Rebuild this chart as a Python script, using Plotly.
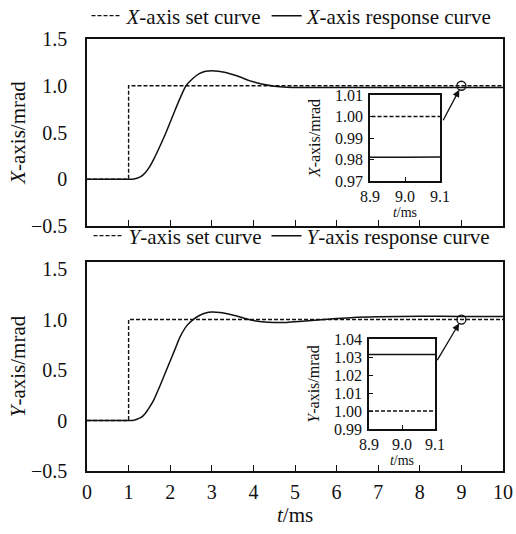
import plotly.graph_objects as go

# ---------------- data ----------------
set_t = [0, 1, 1, 10]
set_v = [0, 0, 1, 1]

x_resp_t = [0, 1.0, 1.1, 1.2, 1.3, 1.4, 1.5, 1.6, 1.75, 1.9, 2.0, 2.1, 2.24, 2.38, 2.55, 2.7,
            2.85, 3.0, 3.15, 3.3, 3.5, 3.7, 3.9, 4.1, 4.3, 4.5, 4.8, 5.2, 5.6, 6, 7, 8, 9, 10]
x_resp_v = [0, 0, 0.001, 0.01, 0.03, 0.07, 0.13, 0.21, 0.35, 0.5, 0.61, 0.72, 0.87, 1.0, 1.08, 1.13,
            1.155, 1.16, 1.155, 1.145, 1.12, 1.09, 1.055, 1.03, 1.01, 0.995, 0.985, 0.981, 0.98, 0.98,
            0.9803, 0.9806, 0.9811, 0.9816]

y_resp_t = [0, 1.0, 1.1, 1.2, 1.3, 1.4, 1.5, 1.6, 1.75, 1.9, 2.0, 2.1, 2.24, 2.4, 2.55, 2.7, 2.85,
            3.0, 3.2, 3.4, 3.6, 3.8, 4.0, 4.2, 4.5, 4.8, 5.1, 5.4, 5.7, 6.0, 6.5, 7, 8, 9, 10]
y_resp_v = [0, 0, 0.001, 0.012, 0.03, 0.07, 0.13, 0.2, 0.34, 0.49, 0.59, 0.69, 0.83, 0.94, 1.0, 1.04,
            1.065, 1.075, 1.07, 1.055, 1.035, 1.01, 0.99, 0.978, 0.97, 0.972, 0.98, 0.99, 1.0, 1.01,
            1.022, 1.028, 1.0318, 1.0313, 1.031]

marker_t = [9.0]
marker_v = [1.0]

main_yticks = [-0.5, 0, 0.5, 1.0, 1.5]
main_yticktext = ["\u22120.5", "0", "0.5", "1.0", "1.5"]
main_xticks = list(range(0, 11))
inset_xticks = [8.9, 9.0, 9.1]
inset_xticktext = ["8.9", "9.0", "9.1"]
inset1_yticks = [0.97, 0.98, 0.99, 1.00, 1.01]
inset2_yticks = [0.99, 1.00, 1.01, 1.02, 1.03, 1.04]

FONT = "Liberation Serif, Times New Roman, serif"
BLACK = "#111"
W, H = 516, 534


def px(v):
    return v / W


def py(v):
    return 1 - v / H


def f(size):
    return dict(family=FONT, size=size, color=BLACK)


fig = go.Figure()

dash = "4px,2px"
SETW = 1.4
RESW = 1.5
# top panel
fig.add_trace(go.Scatter(x=set_t, y=set_v, mode="lines", name="<i>X</i>-axis set curve",
                         line=dict(color=BLACK, width=SETW, dash=dash), xaxis="x", yaxis="y", legend="legend"))
fig.add_trace(go.Scatter(x=x_resp_t, y=x_resp_v, mode="lines", name="<i>X</i>-axis response curve",
                         line=dict(color=BLACK, width=RESW, shape="spline", smoothing=0.6),
                         xaxis="x", yaxis="y", legend="legend"))
fig.add_trace(go.Scatter(x=marker_t, y=marker_v, mode="markers", showlegend=False,
                         marker=dict(symbol="circle-open", size=9, color=BLACK, line=dict(width=1.3)),
                         xaxis="x", yaxis="y"))
# bottom panel
fig.add_trace(go.Scatter(x=set_t, y=set_v, mode="lines", name="<i>Y</i>-axis set curve",
                         line=dict(color=BLACK, width=SETW, dash=dash), xaxis="x2", yaxis="y2", legend="legend2"))
fig.add_trace(go.Scatter(x=y_resp_t, y=y_resp_v, mode="lines", name="<i>Y</i>-axis response curve",
                         line=dict(color=BLACK, width=RESW, shape="spline", smoothing=0.6),
                         xaxis="x2", yaxis="y2", legend="legend2"))
fig.add_trace(go.Scatter(x=marker_t, y=marker_v, mode="markers", showlegend=False,
                         marker=dict(symbol="circle-open", size=9, color=BLACK, line=dict(width=1.3)),
                         xaxis="x2", yaxis="y2"))
# insets
fig.add_trace(go.Scatter(x=set_t, y=set_v, mode="lines", showlegend=False,
                         line=dict(color=BLACK, width=SETW, dash=dash), xaxis="x3", yaxis="y3"))
fig.add_trace(go.Scatter(x=x_resp_t, y=x_resp_v, mode="lines", showlegend=False,
                         line=dict(color=BLACK, width=RESW), xaxis="x3", yaxis="y3"))
fig.add_trace(go.Scatter(x=set_t, y=set_v, mode="lines", showlegend=False,
                         line=dict(color=BLACK, width=SETW, dash=dash), xaxis="x4", yaxis="y4"))
fig.add_trace(go.Scatter(x=y_resp_t, y=y_resp_v, mode="lines", showlegend=False,
                         line=dict(color=BLACK, width=RESW), xaxis="x4", yaxis="y4"))

axline = dict(showline=True, linecolor=BLACK, linewidth=1.5, mirror=True, showgrid=False,
              zeroline=False, automargin=False)
main_dom_x = [px(87), px(503)]

fig.update_layout(
    width=W, height=H,
    margin=dict(l=0, r=0, t=0, b=0, autoexpand=False),
    paper_bgcolor="white", plot_bgcolor="white",
    font=f(20),
    xaxis=dict(domain=main_dom_x, range=[0, 10], anchor="y", tickvals=main_xticks,
               ticks="inside", ticklen=6, tickcolor=BLACK, showticklabels=False, **axline),
    yaxis=dict(domain=[py(226), py(39)], range=[-0.5, 1.5], anchor="x", tickvals=main_yticks,
               ticktext=main_yticktext, ticks="", ticklabelstandoff=14, tickfont=f(20),
               title=dict(text="<i>X</i>-axis/mrad", font=f(21), standoff=0), **axline),
    xaxis2=dict(domain=main_dom_x, range=[0, 10], anchor="y2", tickvals=main_xticks,
                ticks="inside", ticklen=6, tickcolor=BLACK, ticklabelstandoff=2, tickfont=f(20),
                **axline),
    yaxis2=dict(domain=[py(471), py(262)], range=[-0.5, 1.57], anchor="x2", tickvals=main_yticks,
                ticktext=main_yticktext, ticks="", ticklabelstandoff=14, tickfont=f(20),
                title=dict(text="<i>Y</i>-axis/mrad", font=f(21), standoff=0), **axline),
    xaxis3=dict(domain=[px(370), px(440)], range=[8.9, 9.1], anchor="y3", tickvals=inset_xticks,
                ticktext=inset_xticktext, ticks="inside", ticklen=4, tickcolor=BLACK,
                tickfont=f(16), ticklabelstandoff=0,
                title=dict(text="<i>t</i>/ms", font=f(14), standoff=0), **axline),
    yaxis3=dict(domain=[py(181), py(95)], range=[0.97, 1.01], anchor="x3", tickvals=inset1_yticks,
                tickformat=".2f", ticks="inside", ticklen=4, tickcolor=BLACK,
                tickfont=f(16), ticklabelstandoff=2,
                title=dict(text="<i>X</i>-axis/mrad", font=f(16), standoff=10), **axline),
    xaxis4=dict(domain=[px(369), px(435)], range=[8.9, 9.1], anchor="y4", tickvals=inset_xticks,
                ticktext=inset_xticktext, ticks="inside", ticklen=4, tickcolor=BLACK,
                tickfont=f(16), ticklabelstandoff=0,
                title=dict(text="<i>t</i>/ms", font=f(14), standoff=0), **axline),
    yaxis4=dict(domain=[py(429), py(339)], range=[0.99, 1.04], anchor="x4", tickvals=inset2_yticks,
                tickformat=".2f", ticks="inside", ticklen=4, tickcolor=BLACK,
                tickfont=f(16), ticklabelstandoff=2,
                title=dict(text="<i>Y</i>-axis/mrad", font=f(16), standoff=10), **axline),
    legend=dict(orientation="h", x=px(292), xanchor="center", y=py(16), yanchor="middle",
                font=f(21), bgcolor="rgba(0,0,0,0)", itemwidth=30, traceorder="normal"),
    legend2=dict(orientation="h", x=px(292), xanchor="center", y=py(236), yanchor="middle",
                 font=f(21), bgcolor="rgba(0,0,0,0)", itemwidth=30, traceorder="normal"),
    showlegend=True,
)

# main x-axis title
fig.add_annotation(text="<i>t</i>/ms", xref="paper", yref="paper", x=px(295), y=py(515),
                   xanchor="center", yanchor="middle", showarrow=False, font=f(21))

fig.add_annotation(x=9.0, y=1.0, xref="x", yref="y", ax=-19, ay=36, axref="pixel", ayref="pixel",
                   showarrow=True, arrowhead=2, arrowsize=1.1, arrowwidth=1.3, arrowcolor=BLACK,
                   standoff=4.5, text="")
fig.add_annotation(x=9.0, y=1.0, xref="x2", yref="y2", ax=-25, ay=42, axref="pixel", ayref="pixel",
                   showarrow=True, arrowhead=2, arrowsize=1.1, arrowwidth=1.3, arrowcolor=BLACK,
                   standoff=4.5, text="")

fig.write_html("out.html")
